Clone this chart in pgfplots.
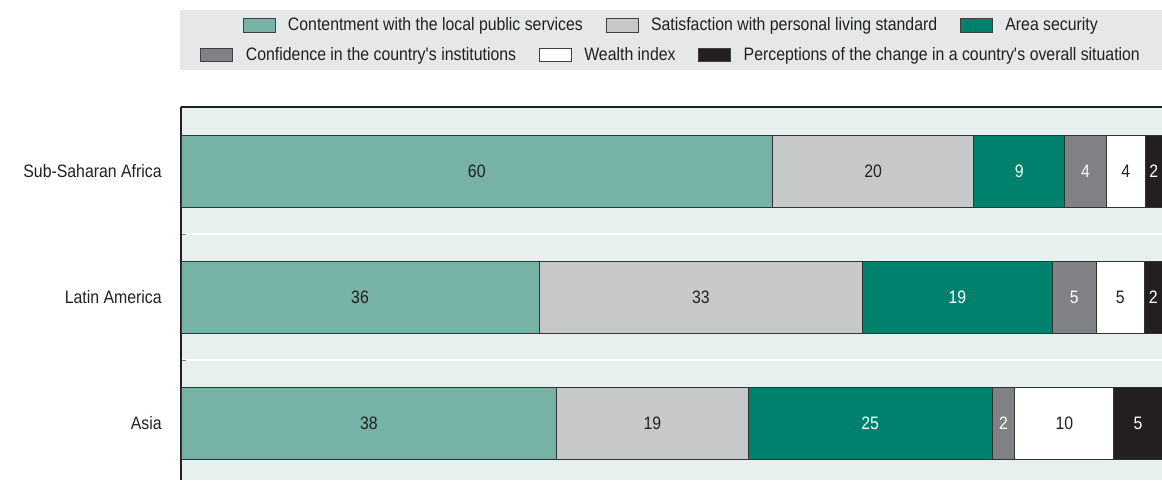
\documentclass[border=0pt]{standalone}
\usepackage{fontspec}
\setmainfont{Liberation Sans}[FakeStretch=0.88]
\usepackage{pgfplots}
\usepackage{pgfplotstable}
\pgfplotsset{compat=1.18}

\definecolor{cLight}{HTML}{76B2A6}
\definecolor{cGray}{HTML}{C7C8CA}
\definecolor{cTeal}{HTML}{00816D}
\definecolor{cDark}{HTML}{808184}
\definecolor{cBlack}{HTML}{231F20}
\definecolor{bgPlot}{HTML}{E7F0EF}
\definecolor{bgLeg}{HTML}{E6E7E8}

% y: 0 = Sub-Saharan Africa, 1 = Latin America, 2 = Asia
\pgfplotstableread{
y x lab
0 60.3 60
1 36.5 36
2 38.3 38
}\services
\pgfplotstableread{
y x lab
0 20.5 20
1 33.0 33
2 19.5 19
}\living
\pgfplotstableread{
y x lab
0 9.3 9
1 19.3 19
2 24.9 25
}\security
\pgfplotstableread{
y x lab
0 4.2 4
1 4.5 5
2 2.3 2
}\institutions
\pgfplotstableread{
y x lab
0 4.0 4
1 4.9 5
2 10.1 10
}\wealth
\pgfplotstableread{
y x lab
0 1.7 2
1 1.8 2
2 4.9 5
}\change

\newcommand\txt{\fontsize{13.5}{15}\selectfont}

\pgfplotsset{
  swatch/.style={legend image code/.code={\draw[##1,draw=black!75,line width=0.6pt] (0pt,-5pt) rectangle (24pt,5pt);}},
  rowlegend/.style={
    legend columns=-1, draw=none, fill=none, anchor=center,
    font=\txt, text=cBlack,
    /tikz/every odd column/.append style={column sep=7.5pt},
    /tikz/every even column/.append style={column sep=15pt},
  },
}

\begin{document}
\begin{tikzpicture}
\useasboundingbox (0pt,0pt) rectangle (871.5pt,-360pt);
\fill[bgLeg] (135pt,-7.5pt) rectangle (871.5pt,-52.5pt);

\begin{axis}[
  at={(135.75pt,-360pt)}, anchor=south west,
  scale only axis, width=735.75pt, height=279.75pt,
  xbar stacked, bar width=0.571,
  xmin=0, xmax=100, ymin=-0.508, ymax=2.452, y dir=reverse,
  xtick=\empty,
  ytick={0,1,2}, yticklabels={Sub-Saharan Africa, Latin America, Asia},
  major tick length=0pt,
  minor ytick={0.5,1.5}, minor tick length=4pt,
  minor tick style={black!50, line width=0.8pt},
  yminorgrids, minor y grid style={white, line width=1.2pt},
  axis x line*=top, axis y line*=left,
  axis line style={-, cBlack, line width=1.1pt},
  axis background/.style={fill=bgPlot},
  ticklabel style={font=\txt, text=cBlack},
  yticklabel style={xshift=-11pt},
  every axis plot/.append style={draw=black!80, line width=0.7pt},
  point meta=explicit symbolic,
  nodes near coords,
  every node near coord/.append style={anchor=center, font=\txt},
  swatch,
  legend style={rowlegend, at={(0.5,1.219)}},
]
\addplot[fill=cLight, every node near coord/.append style={text=cBlack}] table[x=x, y=y, meta=lab] {\services};
\addplot[fill=cGray, every node near coord/.append style={text=cBlack}] table[x=x, y=y, meta=lab] {\living};
\addplot[fill=cTeal, every node near coord/.append style={text=white}] table[x=x, y=y, meta=lab] {\security};
\addplot[fill=cDark, every node near coord/.append style={text=white}] table[x=x, y=y, meta=lab] {\institutions};
\addplot[fill=white, every node near coord/.append style={text=cBlack}] table[x=x, y=y, meta=lab] {\wealth};
\addplot[fill=cBlack, every node near coord/.append style={text=white}] table[x=x, y=y, meta=lab] {\change};
\legend{Contentment with the local public services, Satisfaction with personal living standard, Area security}
\end{axis}

\begin{axis}[
  at={(135.75pt,-360pt)}, anchor=south west,
  scale only axis, width=735.75pt, height=279.75pt,
  xmin=0, xmax=100, ymin=0, ymax=1, hide axis,
  swatch,
  legend style={rowlegend, at={(0.5,1.14)}},
]
\addlegendimage{fill=cDark}
\addlegendentry{Confidence in the country\textquotesingle s institutions}
\addlegendimage{fill=white}
\addlegendentry{Wealth index}
\addlegendimage{fill=cBlack}
\addlegendentry{Perceptions of the change in a country\textquotesingle s overall situation}
\end{axis}
\end{tikzpicture}
\end{document}
